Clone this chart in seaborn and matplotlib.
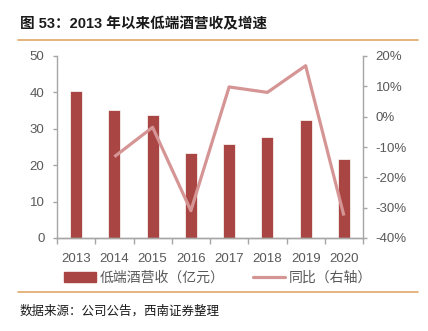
import numpy as np
import pandas as pd
import matplotlib
matplotlib.use("Agg")
import matplotlib.pyplot as plt
from matplotlib.lines import Line2D
from matplotlib.patches import Patch
from matplotlib.ticker import FuncFormatter, FixedLocator
import seaborn as sns

years = ["2013", "2014", "2015", "2016", "2017", "2018", "2019", "2020"]
revenue = [40.4, 35.1, 33.7, 23.4, 25.7, 27.7, 32.4, 21.8]
growth_years = ["2014", "2015", "2016", "2017", "2018", "2019", "2020"]
growth = [-13.2, -3.5, -31.0, 9.8, 8.0, 16.8, -32.6]

bar_label = "低端酒营收（亿元）"
line_label = "同比（右轴）"
title = "图 53：2013 年以来低端酒营收及增速"
source = "数据来源：公司公告，西南证券整理"

sns.set_theme(style="white")
plt.rcParams["font.family"] = ["Liberation Sans", "Noto Sans CJK SC", "DejaVu Sans"]

bar_color = "#A94643"
line_color = "#D69595"
tick_color = "#595959"
spine_color = "#A6A6A6"
rule_color = "#E0A866"

fig = plt.figure(figsize=(4.28, 3.31), dpi=100)
ax = fig.add_axes([57 / 428, 1 - 238 / 331, (363 - 57) / 428, (238 - 56) / 331])

df_bar = pd.DataFrame({"year": years, "rev": revenue})
sns.barplot(data=df_bar, x="year", y="rev", color=bar_color, width=0.31,
            saturation=1, ax=ax, order=years)
for p in ax.patches:
    p.set_edgecolor("white")
    p.set_linewidth(0.5)

ax2 = ax.twinx()
pos = [years.index(y) for y in growth_years]
df_line = pd.DataFrame({"pos": pos, "g": growth})
sns.lineplot(data=df_line, x="pos", y="g", color=line_color, linewidth=2.3,
             ax=ax2, solid_capstyle="butt")

ax.set_xlim(-0.5, len(years) - 0.5)
ax.set_ylim(0, 50)
ax.set_yticks(range(0, 51, 10))
ax2.set_ylim(-40, 20)
ax2.set_yticks(range(-40, 21, 10))
ax2.yaxis.set_major_formatter(FuncFormatter(lambda v, _: f"{int(round(v))}%"))

ax.set_xlabel("")
ax.set_ylabel("")
ax2.set_xlabel("")
ax2.set_ylabel("")

for a in (ax, ax2):
    for s in a.spines.values():
        s.set_color(spine_color)
        s.set_linewidth(1.0)
    a.spines["top"].set_visible(False)
    a.grid(False)
ax2.spines["left"].set_visible(False)
ax.spines["right"].set_visible(False)

ax.tick_params(axis="y", direction="out", length=3, width=1, color=spine_color,
               labelcolor=tick_color, labelsize=9.5, pad=6, left=True)
ax2.tick_params(axis="y", direction="out", length=3, width=1, color=spine_color,
                labelcolor=tick_color, labelsize=9.5, pad=6, right=True)
ax.tick_params(axis="x", which="major", length=0, labelcolor=tick_color,
               labelsize=9.5, pad=11)
ax.xaxis.set_minor_locator(FixedLocator(np.arange(-0.5, len(years), 1.0)))
ax.tick_params(axis="x", which="minor", direction="out", length=4, width=1,
               color=spine_color, bottom=True)

handles = [Patch(facecolor=bar_color, edgecolor=bar_color),
           Line2D([0], [0], color=line_color, linewidth=2.3)]
fig.legend(handles, [bar_label, line_label], loc="center",
           bbox_to_anchor=(218 / 428, 1 - 278 / 331), ncol=2, frameon=False,
           fontsize=10, labelcolor=tick_color, handlelength=2.3,
           handleheight=0.7, columnspacing=2.0, handletextpad=0.3)

fig.text(20 / 428, 1 - 24 / 331, title, fontsize=10.5, fontweight="bold",
         color="#1a1a1a", va="center", ha="left")
fig.add_artist(Line2D([18 / 428, 418 / 428], [1 - 40 / 331, 1 - 40 / 331],
                      color=rule_color, linewidth=1.2))
fig.add_artist(Line2D([18 / 428, 418 / 428], [1 - 292 / 331, 1 - 292 / 331],
                      color=rule_color, linewidth=1.2))
fig.text(20 / 428, 1 - 311 / 331, source, fontsize=9, style="italic",
         color="#1a1a1a", va="center", ha="left")

fig.savefig("out.png", dpi=100, facecolor="white")
